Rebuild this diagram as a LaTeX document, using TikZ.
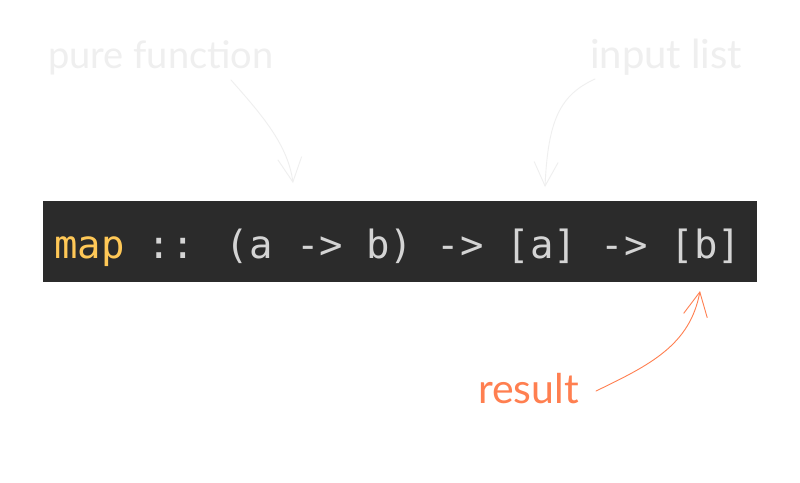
\documentclass[tikz,border=0pt]{standalone}
\usepackage{fontspec}
\setmainfont{Lato}
\newfontfamily\codefont{DejaVu Sans Mono}
\usetikzlibrary{arrows.meta}
\definecolor{barbg}{HTML}{2B2B2B}
\definecolor{kwyellow}{HTML}{FFC857}
\definecolor{codegray}{HTML}{D4D4D4}
\definecolor{faint}{HTML}{EFEFEF}
\definecolor{coral}{HTML}{FF7F50}
\tikzset{
  note/.style={inner sep=0pt, anchor=base west, font=\fontsize{39}{39}\selectfont},
  pointer/.style={line width=0.9pt, line cap=round, -{Straight Barb[length=24pt, width=24pt, line width=0.9pt]}},
}
\begin{document}
\begin{tikzpicture}[x=1pt, y=-1pt]
  \useasboundingbox (0,0) rectangle (800,482);
  \fill[white] (0,0) rectangle (800,482);

  % code strip with the type signature
  \node[fill=barbg, minimum width=714pt, minimum height=81pt, inner sep=0pt, anchor=north west] (bar) at (43,201) {};
  \node[inner sep=0pt, anchor=base west, font=\codefont\fontsize{38.9}{38.9}\selectfont, text=codegray] (sig) at (54,258)
    {\textcolor{kwyellow}{map} :: (a -> b) -> [a] -> [b]};

  % annotations
  \node[note, text=faint, font=\fontsize{38}{38}\selectfont] (pf) at (48,68) {pure function};
  \node[note, text=faint, font=\fontsize{40}{40}\selectfont] (il) at (590,68) {input list};
  \node[note, text=coral, font=\fontsize{41}{41}\selectfont] (res) at (478,403) {result};

  \coordinate (pfstart) at (231,80);
  \coordinate (pfend) at (293,183);
  \coordinate (ilstart) at (595,79);
  \coordinate (ilend) at (545,187);
  \coordinate (resstart) at (596,391);
  \coordinate (resend) at (700,291);

  \draw[pointer, draw=faint] (pfstart) .. controls (262,115) and (288,145) .. (pfend);
  \draw[pointer, draw=faint] (ilstart) .. controls (560,95) and (548,120) .. (ilend);
  \draw[pointer, draw=coral] (resstart) .. controls (650,365) and (690,345) .. (resend);
\end{tikzpicture}
\end{document}
